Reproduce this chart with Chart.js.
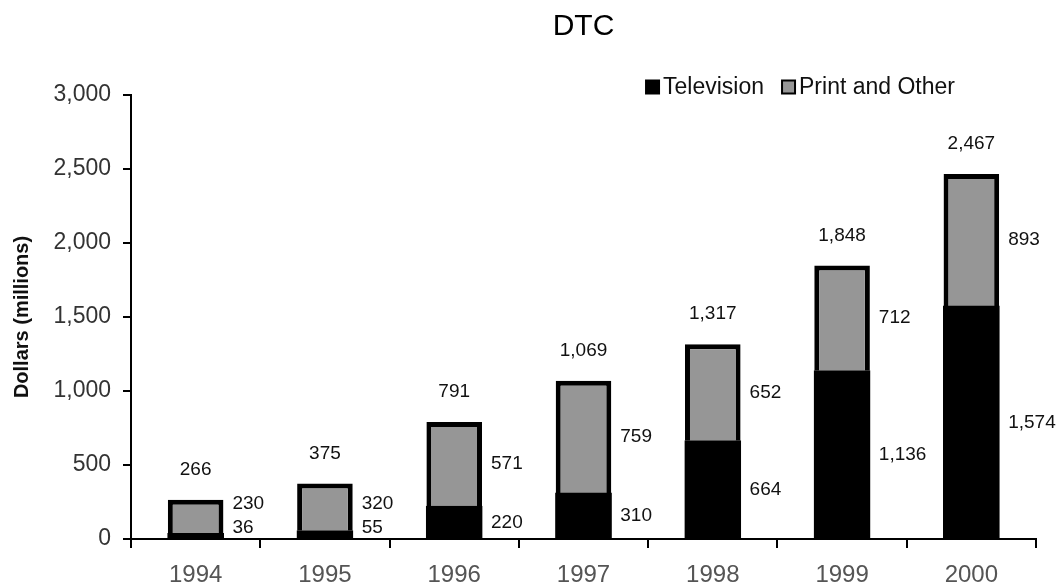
<!DOCTYPE html>
<html>
<head>
<meta charset="utf-8">
<title>DTC</title>
<script src="https://cdn.jsdelivr.net/npm/chart.js@4.4.1/dist/chart.umd.min.js"></script>
<style>
  html, body { margin: 0; padding: 0; background: #fff; }
  #wrap { position: relative; width: 1061px; height: 588px; }
</style>
</head>
<body>
<div id="wrap"><canvas id="myChart"></canvas></div>
<script>
const years = ['1994', '1995', '1996', '1997', '1998', '1999', '2000'];
const television = [36, 55, 220, 310, 664, 1136, 1574];
const printOther = [230, 320, 571, 759, 652, 712, 893];
// totals as printed above the bars (1998 reads 1,317 in the source)
const totals = [266, 375, 791, 1069, 1317, 1848, 2467];
const yTicks = [0, 500, 1000, 1500, 2000, 2500, 3000];

const FONT = "'Liberation Sans', Arial, sans-serif";
const fmt = v => v.toLocaleString('en-US');

// numbers next to / above each stack
const valueLabels = {
  id: 'valueLabels',
  afterDatasetsDraw(chart) {
    const ctx = chart.ctx;
    const base = chart.scales.y.getPixelForValue(0);
    const tvBars = chart.getDatasetMeta(0).data;
    const prBars = chart.getDatasetMeta(1).data;
    ctx.save();
    ctx.font = '19px ' + FONT;
    ctx.fillStyle = '#111';
    ctx.textBaseline = 'middle';
    tvBars.forEach((tv, i) => {
      const pr = prBars[i];
      const x = pr.x + pr.width / 2 + 9;
      const tvY = Math.min((tv.y + base) / 2, base - 11);
      const prY = Math.min((pr.y + pr.base) / 2, tvY - 24);
      ctx.textAlign = 'left';
      ctx.fillText(fmt(television[i]), x, tvY);
      ctx.fillText(fmt(printOther[i]), x, prY);
      ctx.textAlign = 'center';
      ctx.fillText(fmt(totals[i]), pr.x, pr.y - 30);
    });
    ctx.restore();
  }
};

// small legend in the top right, over the plot
const topLegend = {
  id: 'topLegend',
  afterDraw(chart) {
    const ctx = chart.ctx;
    const box = 15, gap = 3, between = 17, endX = 955, midY = 87;
    ctx.save();
    ctx.font = '23px ' + FONT;
    ctx.textBaseline = 'middle';
    ctx.textAlign = 'left';
    const items = chart.data.datasets.map(d => ({
      text: d.label, fill: d.backgroundColor, stroke: d.borderColor,
      w: box + gap + ctx.measureText(d.label).width
    }));
    let x = endX - items.reduce((s, it) => s + it.w, 0) - between * (items.length - 1);
    items.forEach(it => {
      ctx.fillStyle = it.stroke;
      ctx.fillRect(x, midY - box / 2, box, box);
      ctx.fillStyle = it.fill;
      ctx.fillRect(x + 2, midY - box / 2 + 2, box - 4, box - 4);
      ctx.fillStyle = '#111';
      ctx.fillText(it.text, x + box + gap, midY + 1);
      x += it.w + between;
    });
    ctx.restore();
  }
};

new Chart(document.getElementById('myChart'), {
  type: 'bar',
  data: {
    labels: years,
    datasets: [
      { label: 'Television', data: television, backgroundColor: '#000000', borderColor: '#000000', borderWidth: 5, inflateAmount: 0.6 },
      { label: 'Print and Other', data: printOther, backgroundColor: '#969696', borderColor: '#000000', borderWidth: 5 }
    ]
  },
  options: {
    responsive: true,
    maintainAspectRatio: false,
    animation: false,
    layout: { padding: { left: 0, right: 25, top: 0, bottom: 0 } },
    datasets: { bar: { categoryPercentage: 1, barPercentage: 0.43 } },
    plugins: {
      legend: { display: false },
      tooltip: { enabled: false },
      title: {
        display: true, text: 'DTC', fullSize: false, color: '#000',
        font: { family: FONT, size: 30, weight: 'normal' },
        padding: { top: 9, bottom: 50 }
      }
    },
    scales: {
      x: {
        stacked: true,
        offset: true,
        grid: { display: true, drawOnChartArea: false, offset: true, tickLength: 9, color: '#000', lineWidth: 2 },
        border: { color: '#000', width: 2 },
        ticks: { color: '#555', font: { family: FONT, size: 24 }, padding: 13 },
        afterFit: s => { s.height = 49; }
      },
      y: {
        stacked: true,
        min: 0,
        max: 3000,
        afterBuildTicks: s => { s.ticks = yTicks.map(v => ({ value: v })); },
        grid: { display: true, drawOnChartArea: false, tickLength: 8, color: '#000', lineWidth: 2 },
        border: { color: '#000', width: 2 },
        ticks: { color: '#333', font: { family: FONT, size: 23 }, padding: 12, callback: v => fmt(v) },
        title: {
          display: true, text: 'Dollars (millions)', color: '#111',
          font: { family: FONT, size: 20, weight: 'bold' },
          padding: { top: 10, bottom: 0 }
        },
        afterFit: s => { s.width = 131; }
      }
    }
  },
  plugins: [valueLabels, topLegend]
});
</script>
</body>
</html>
